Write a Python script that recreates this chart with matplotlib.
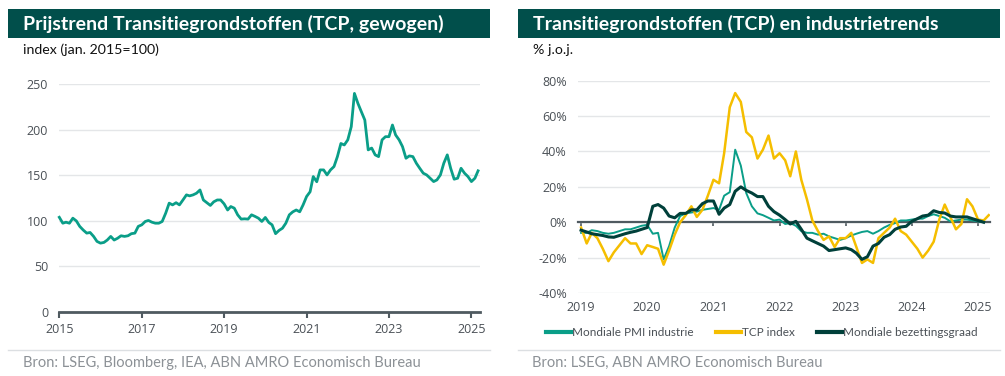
import matplotlib.pyplot as plt
import matplotlib.dates as mdates
import pandas as pd
from matplotlib.lines import Line2D

# kleuren
GROEN = '#014f4b'
TEAL = '#0a9e88'
GEEL = '#f5be00'
DONKER = '#00403a'
GRID = '#e4e6e8'
AS = '#4f5a60'
TEKST = '#4a5056'
BRON = '#8c9196'

plt.rcParams['font.family'] = ['Lato', 'DejaVu Sans']
TICKFONT = 'Open Sans'

# links: TCP index (jan. 2015=100), maandelijks jan 2015 - mrt 2025
tcp_start = '2015-01-01'
tcp_index = [
    104, 97.5, 98.6, 97.5, 103, 100, 94, 90, 86.6, 87.3, 83, 77.5,        # 2015
    75.6, 76.4, 79, 83, 79, 81, 83.7, 83, 83.7, 86, 86.6, 94,             # 2016
    95.7, 99.4, 100.5, 98.6, 97.5, 97.5, 99.4, 108.5, 119.5, 117.6, 120, 117.6,  # 2017
    123, 128.6, 127.5, 128.6, 130.4, 134, 123, 120, 117, 121, 123, 123,   # 2018
    118.7, 112, 115.8, 114, 106.7, 102, 102.3, 102, 106.7, 105, 103, 99.4,  # 2019
    103.8, 98.3, 95.7, 86, 89.5, 92, 97.5, 106.7, 110, 112, 110, 117.6,   # 2020
    126.8, 132, 148.7, 143, 156, 156, 150.5, 156, 159.7, 170.6, 185, 183.4,  # 2021
    189, 203.5, 240, 229, 220, 210.8, 178, 180, 172.5, 170.6, 189, 192.5,  # 2022
    192.5, 205.3, 194.4, 189, 181.6, 168.8, 171.4, 170.6, 163.3, 157.8, 152.4, 150.5,  # 2023
    146.9, 143.2, 145, 150.5, 163.3, 172.5, 157.8, 145.8, 146.9, 157.8, 152.4, 148.7,  # 2024
    143.2, 146.9, 155,                                                   # 2025
]

# rechts: % j.o.j., maandelijks jan 2019 - mrt 2025
yoy_start = '2019-01-01'
pmi_industrie = [
    -6, -6, -4.5, -5, -6, -6.5, -6, -5, -4, -4, -3, -2,
    -1.5, -6.5, -6, -21, -13.5, -3, 3.5, 5, 5.5, 6, 7, 7.5,
    8, 7, 15, 17, 41, 32, 16.5, 9, 5, 4, 2.5, 1,
    1.5, -1, -0.5, -2, -5, -6, -6, -7, -6.5, -8, -9, -10,
    -9, -7.5, -6.5, -5.5, -5, -6.5, -5, -3, -1.5, -0.5, 1, 1,
    1.5, 2, 2, 3.5, 4.5, 3.5, 2.5, 0.5, 1, 1.5, 1.5, 1,
    0.5, 0,
]
tcp_yoy = [
    -3, -12, -6, -9, -15, -22, -17, -13, -9, -12, -12, -18,
    -13, -14, -15, -24, -16, -7, 0, 4, 9, 3, 7, 15,
    24, 22, 39, 65, 73, 68, 51, 48, 36, 41, 49, 36,
    39, 35, 26, 40, 24, 13, 1, -5, -10, -8, -14, -9,
    -9, -6, -14, -23, -21, -23, -9, -6, -3, 2, -5, -7,
    -11, -15, -20, -16, -11, 1.5, 10, 3, -4, -1, 13, 9,
    1.5, 1, 4,
]
bezettingsgraad = [
    -4.5, -5.5, -6.5, -7, -7.5, -8.3, -8.5, -7.5, -6.5, -5.7, -5, -4,
    -3, 9, 10, 8, 3.5, 2.5, 5, 5, 7, 7, 10.5, 12,
    12, 4.5, 8, 10, 17.5, 20, 18, 16.5, 14.5, 14.5, 9, 6,
    4, 1.5, -1, 0.5, -4, -9, -10.5, -12, -13.5, -16, -15.5, -15,
    -14.5, -15.5, -17.5, -21, -19.5, -13.5, -12, -8.5, -7, -4, -2.7, -2.3,
    0.5, 2, 3.5, 4, 6.5, 5.5, 5.2, 3.5, 3, 3, 3, 2,
    1, 0,
]
reeks_namen = ['Mondiale PMI industrie', 'TCP index', 'Mondiale bezettingsgraad']

links_jaren = [2015, 2017, 2019, 2021, 2023, 2025]
rechts_jaren = [2019, 2020, 2021, 2022, 2023, 2024, 2025]

d_links = pd.date_range(tcp_start, periods=len(tcp_index), freq='MS')
d_pmi = pd.date_range(yoy_start, periods=len(pmi_industrie), freq='MS')
d_tcp = pd.date_range(yoy_start, periods=len(tcp_yoy), freq='MS')
d_bez = pd.date_range(yoy_start, periods=len(bezettingsgraad), freq='MS')

W, H = 1005, 376
fig = plt.figure(figsize=(W / 100, H / 100), dpi=100)


def px(x0, y0, x1, y1):
    # pixelvak -> figuurfracties
    return [x0 / W, 1 - y1 / H, (x1 - x0) / W, (y1 - y0) / H]


def kop(x0, x1, tekst, sub):
    bar = fig.add_axes(px(x0, 9, x1, 37.5))
    bar.set_facecolor(GROEN)
    bar.set_xticks([])
    bar.set_yticks([])
    for s in bar.spines.values():
        s.set_visible(False)
    fig.text((x0 + 15) / W, 1 - 23.5 / H, tekst, color='white', fontsize=14,
             fontweight='bold', va='center', ha='left')
    fig.text((x0 + 15) / W, 1 - 50 / H, sub, color='#111111', fontsize=10.2,
             va='center', ha='left')
    fig.add_artist(Line2D([x0 / W, x1 / W], [1 - 350 / H] * 2, color='#dcdfe2', lw=1))


kop(8, 490, 'Prijstrend Transitiegrondstoffen (TCP, gewogen)', 'index (jan. 2015=100)')
kop(518, 1000, 'Transitiegrondstoffen (TCP) en industrietrends', '% j.o.j.')
fig.text(23 / W, 1 - 363 / H, 'Bron: LSEG, Bloomberg, IEA, ABN AMRO Economisch Bureau',
         color=BRON, fontsize=10.5, va='center')
fig.text(532 / W, 1 - 363 / H, 'Bron: LSEG, ABN AMRO Economisch Bureau',
         color=BRON, fontsize=10.5, va='center')

# ---- links ----
ax1 = fig.add_axes(px(59.3, 84.3, 480, 312))
ax1.plot(d_links, tcp_index, color=TEAL, lw=2, solid_joinstyle='round', clip_on=False)
ax1.set_ylim(0, 250)
ax1.set_yticks(range(0, 251, 50))
ax1.set_xlim(pd.Timestamp('2015-01-01'), pd.Timestamp('2025-03-18'))
ax1.set_xticks([pd.Timestamp(f'{j}-01-01') for j in links_jaren])
ax1.xaxis.set_major_formatter(mdates.DateFormatter('%Y'))
ax1.grid(axis='y', color=GRID, lw=1)
ax1.set_axisbelow(True)
for s in ['top', 'right', 'left']:
    ax1.spines[s].set_visible(False)
ax1.spines['bottom'].set_color(AS)
ax1.spines['bottom'].set_linewidth(2)
ax1.tick_params(axis='x', colors=AS, length=4, width=1.5, labelsize=9, pad=4,
                labelcolor=TEKST, labelfontfamily=TICKFONT)
ax1.tick_params(axis='y', length=0, labelsize=9, pad=8, labelcolor=TEKST,
                labelfontfamily=TICKFONT)

# ---- rechts ----
ax2 = fig.add_axes(px(578, 80.7, 990, 293))
ax2.plot(d_pmi, pmi_industrie, color=TEAL, lw=1.4, label=reeks_namen[0])
ax2.plot(d_tcp, tcp_yoy, color=GEEL, lw=1.8, label=reeks_namen[1])
ax2.plot(d_bez, bezettingsgraad, color=DONKER, lw=2.2, label=reeks_namen[2])
ax2.set_ylim(-40, 80)
ax2.set_yticks(range(-40, 81, 20))
ax2.set_yticklabels([f'{v}%' for v in range(-40, 81, 20)])
ax2.set_xlim(pd.Timestamp('2018-12-15'), pd.Timestamp('2025-03-08'))
jt = [pd.Timestamp(f'{j}-01-01') for j in rechts_jaren]
ax2.set_xticks(jt)
ax2.set_xticklabels([])
ax2.grid(axis='y', color=GRID, lw=1)
ax2.set_axisbelow(True)
for s in ['top', 'right', 'left']:
    ax2.spines[s].set_visible(False)
ax2.spines['bottom'].set_position(('data', 0))
ax2.spines['bottom'].set_color(AS)
ax2.spines['bottom'].set_linewidth(1.6)
ax2.spines['bottom'].set_zorder(1.5)
ax2.tick_params(axis='x', colors=AS, length=3, width=1.2)
ax2.tick_params(axis='y', length=0, labelsize=9, pad=8, labelcolor=TEKST,
                labelfontfamily=TICKFONT)
sec = ax2.secondary_xaxis(0)
sec.set_xticks(jt)
sec.xaxis.set_major_formatter(mdates.DateFormatter('%Y'))
sec.spines['bottom'].set_visible(False)
sec.tick_params(length=0, labelsize=9, pad=6, labelcolor=TEKST,
                labelfontfamily=TICKFONT)

leg = fig.legend(*ax2.get_legend_handles_labels(), loc='center', ncol=3,
                 bbox_to_anchor=(762 / W, 1 - 333 / H), frameon=False, fontsize=8.5,
                 handlelength=2.1, handletextpad=0.1, columnspacing=1.9)
for h in leg.get_lines():
    h.set_linewidth(3)
for t in leg.get_texts():
    t.set_color(TEKST)

fig.savefig('out.png', dpi=100)
